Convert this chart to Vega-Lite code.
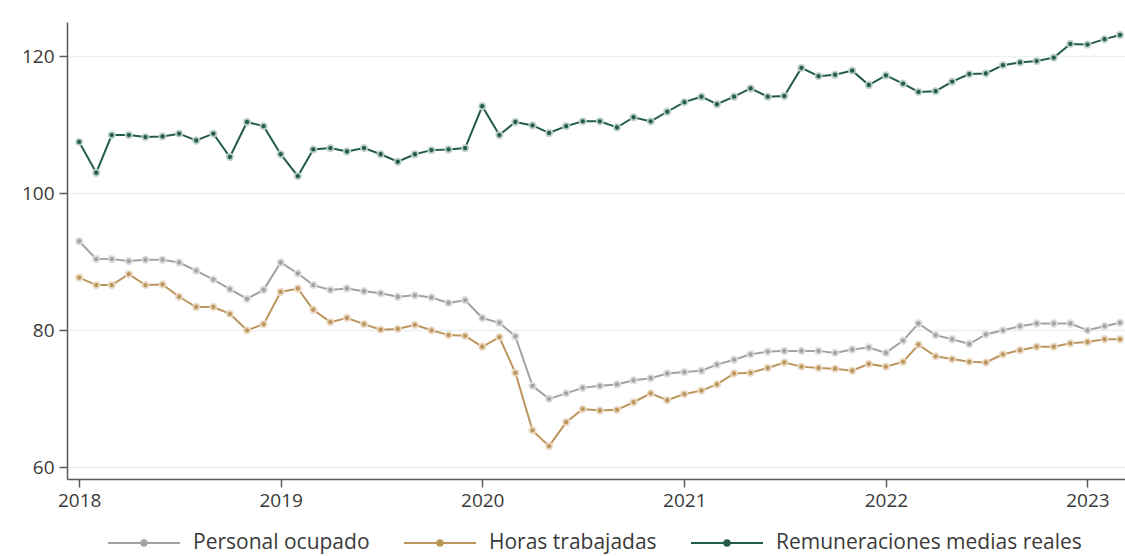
{
  "$schema": "https://vega.github.io/schema/vega-lite/v6.json",
  "width": 1058,
  "height": 457,
  "autosize": {"type": "none"},
  "padding": {"left": 67, "top": 22, "right": 0, "bottom": 77},
  "background": "white",
  "config": {
    "view": {"stroke": null},
    "font": "Open Sans",
    "legend": {"padding": 0}
  },
  "data": {
    "values": [
      {"fecha": "2018-01-01", "Personal ocupado": 93.0, "Horas trabajadas": 87.7, "Remuneraciones medias reales": 107.5},
      {"fecha": "2018-02-01", "Personal ocupado": 90.4, "Horas trabajadas": 86.6, "Remuneraciones medias reales": 103.0},
      {"fecha": "2018-03-01", "Personal ocupado": 90.4, "Horas trabajadas": 86.6, "Remuneraciones medias reales": 108.5},
      {"fecha": "2018-04-01", "Personal ocupado": 90.1, "Horas trabajadas": 88.2, "Remuneraciones medias reales": 108.5},
      {"fecha": "2018-05-01", "Personal ocupado": 90.3, "Horas trabajadas": 86.6, "Remuneraciones medias reales": 108.2},
      {"fecha": "2018-06-01", "Personal ocupado": 90.3, "Horas trabajadas": 86.7, "Remuneraciones medias reales": 108.3},
      {"fecha": "2018-07-01", "Personal ocupado": 89.9, "Horas trabajadas": 84.9, "Remuneraciones medias reales": 108.7},
      {"fecha": "2018-08-01", "Personal ocupado": 88.7, "Horas trabajadas": 83.4, "Remuneraciones medias reales": 107.7},
      {"fecha": "2018-09-01", "Personal ocupado": 87.4, "Horas trabajadas": 83.4, "Remuneraciones medias reales": 108.7},
      {"fecha": "2018-10-01", "Personal ocupado": 86.0, "Horas trabajadas": 82.4, "Remuneraciones medias reales": 105.3},
      {"fecha": "2018-11-01", "Personal ocupado": 84.6, "Horas trabajadas": 80.0, "Remuneraciones medias reales": 110.4},
      {"fecha": "2018-12-01", "Personal ocupado": 85.9, "Horas trabajadas": 80.9, "Remuneraciones medias reales": 109.8},
      {"fecha": "2019-01-01", "Personal ocupado": 89.9, "Horas trabajadas": 85.6, "Remuneraciones medias reales": 105.7},
      {"fecha": "2019-02-01", "Personal ocupado": 88.3, "Horas trabajadas": 86.1, "Remuneraciones medias reales": 102.5},
      {"fecha": "2019-03-01", "Personal ocupado": 86.6, "Horas trabajadas": 83.0, "Remuneraciones medias reales": 106.4},
      {"fecha": "2019-04-01", "Personal ocupado": 85.9, "Horas trabajadas": 81.2, "Remuneraciones medias reales": 106.6},
      {"fecha": "2019-05-01", "Personal ocupado": 86.1, "Horas trabajadas": 81.8, "Remuneraciones medias reales": 106.1},
      {"fecha": "2019-06-01", "Personal ocupado": 85.7, "Horas trabajadas": 80.9, "Remuneraciones medias reales": 106.6},
      {"fecha": "2019-07-01", "Personal ocupado": 85.4, "Horas trabajadas": 80.1, "Remuneraciones medias reales": 105.7},
      {"fecha": "2019-08-01", "Personal ocupado": 84.9, "Horas trabajadas": 80.2, "Remuneraciones medias reales": 104.6},
      {"fecha": "2019-09-01", "Personal ocupado": 85.1, "Horas trabajadas": 80.8, "Remuneraciones medias reales": 105.7},
      {"fecha": "2019-10-01", "Personal ocupado": 84.8, "Horas trabajadas": 80.0, "Remuneraciones medias reales": 106.3},
      {"fecha": "2019-11-01", "Personal ocupado": 84.0, "Horas trabajadas": 79.3, "Remuneraciones medias reales": 106.4},
      {"fecha": "2019-12-01", "Personal ocupado": 84.4, "Horas trabajadas": 79.2, "Remuneraciones medias reales": 106.6},
      {"fecha": "2020-01-01", "Personal ocupado": 81.8, "Horas trabajadas": 77.6, "Remuneraciones medias reales": 112.7},
      {"fecha": "2020-02-01", "Personal ocupado": 81.1, "Horas trabajadas": 79.0, "Remuneraciones medias reales": 108.5},
      {"fecha": "2020-03-01", "Personal ocupado": 79.1, "Horas trabajadas": 73.8, "Remuneraciones medias reales": 110.4},
      {"fecha": "2020-04-01", "Personal ocupado": 71.9, "Horas trabajadas": 65.4, "Remuneraciones medias reales": 109.9},
      {"fecha": "2020-05-01", "Personal ocupado": 70.0, "Horas trabajadas": 63.1, "Remuneraciones medias reales": 108.8},
      {"fecha": "2020-06-01", "Personal ocupado": 70.8, "Horas trabajadas": 66.6, "Remuneraciones medias reales": 109.8},
      {"fecha": "2020-07-01", "Personal ocupado": 71.6, "Horas trabajadas": 68.5, "Remuneraciones medias reales": 110.5},
      {"fecha": "2020-08-01", "Personal ocupado": 71.9, "Horas trabajadas": 68.3, "Remuneraciones medias reales": 110.5},
      {"fecha": "2020-09-01", "Personal ocupado": 72.1, "Horas trabajadas": 68.4, "Remuneraciones medias reales": 109.6},
      {"fecha": "2020-10-01", "Personal ocupado": 72.7, "Horas trabajadas": 69.5, "Remuneraciones medias reales": 111.1},
      {"fecha": "2020-11-01", "Personal ocupado": 73.0, "Horas trabajadas": 70.8, "Remuneraciones medias reales": 110.5},
      {"fecha": "2020-12-01", "Personal ocupado": 73.7, "Horas trabajadas": 69.8, "Remuneraciones medias reales": 111.9},
      {"fecha": "2021-01-01", "Personal ocupado": 73.9, "Horas trabajadas": 70.7, "Remuneraciones medias reales": 113.3},
      {"fecha": "2021-02-01", "Personal ocupado": 74.1, "Horas trabajadas": 71.2, "Remuneraciones medias reales": 114.1},
      {"fecha": "2021-03-01", "Personal ocupado": 75.0, "Horas trabajadas": 72.1, "Remuneraciones medias reales": 113.0},
      {"fecha": "2021-04-01", "Personal ocupado": 75.7, "Horas trabajadas": 73.7, "Remuneraciones medias reales": 114.1},
      {"fecha": "2021-05-01", "Personal ocupado": 76.5, "Horas trabajadas": 73.8, "Remuneraciones medias reales": 115.3},
      {"fecha": "2021-06-01", "Personal ocupado": 76.9, "Horas trabajadas": 74.5, "Remuneraciones medias reales": 114.1},
      {"fecha": "2021-07-01", "Personal ocupado": 77.0, "Horas trabajadas": 75.3, "Remuneraciones medias reales": 114.2},
      {"fecha": "2021-08-01", "Personal ocupado": 77.0, "Horas trabajadas": 74.7, "Remuneraciones medias reales": 118.3},
      {"fecha": "2021-09-01", "Personal ocupado": 77.0, "Horas trabajadas": 74.5, "Remuneraciones medias reales": 117.1},
      {"fecha": "2021-10-01", "Personal ocupado": 76.7, "Horas trabajadas": 74.4, "Remuneraciones medias reales": 117.3},
      {"fecha": "2021-11-01", "Personal ocupado": 77.2, "Horas trabajadas": 74.1, "Remuneraciones medias reales": 117.9},
      {"fecha": "2021-12-01", "Personal ocupado": 77.5, "Horas trabajadas": 75.1, "Remuneraciones medias reales": 115.8},
      {"fecha": "2022-01-01", "Personal ocupado": 76.7, "Horas trabajadas": 74.7, "Remuneraciones medias reales": 117.2},
      {"fecha": "2022-02-01", "Personal ocupado": 78.5, "Horas trabajadas": 75.4, "Remuneraciones medias reales": 116.0},
      {"fecha": "2022-03-01", "Personal ocupado": 81.0, "Horas trabajadas": 77.9, "Remuneraciones medias reales": 114.8},
      {"fecha": "2022-04-01", "Personal ocupado": 79.3, "Horas trabajadas": 76.2, "Remuneraciones medias reales": 114.9},
      {"fecha": "2022-05-01", "Personal ocupado": 78.7, "Horas trabajadas": 75.8, "Remuneraciones medias reales": 116.3},
      {"fecha": "2022-06-01", "Personal ocupado": 78.0, "Horas trabajadas": 75.4, "Remuneraciones medias reales": 117.4},
      {"fecha": "2022-07-01", "Personal ocupado": 79.4, "Horas trabajadas": 75.3, "Remuneraciones medias reales": 117.5},
      {"fecha": "2022-08-01", "Personal ocupado": 80.0, "Horas trabajadas": 76.5, "Remuneraciones medias reales": 118.7},
      {"fecha": "2022-09-01", "Personal ocupado": 80.6, "Horas trabajadas": 77.1, "Remuneraciones medias reales": 119.1},
      {"fecha": "2022-10-01", "Personal ocupado": 81.0, "Horas trabajadas": 77.6, "Remuneraciones medias reales": 119.3},
      {"fecha": "2022-11-01", "Personal ocupado": 81.0, "Horas trabajadas": 77.6, "Remuneraciones medias reales": 119.8},
      {"fecha": "2022-12-01", "Personal ocupado": 81.0, "Horas trabajadas": 78.1, "Remuneraciones medias reales": 121.8},
      {"fecha": "2023-01-01", "Personal ocupado": 80.0, "Horas trabajadas": 78.3, "Remuneraciones medias reales": 121.7},
      {"fecha": "2023-02-01", "Personal ocupado": 80.6, "Horas trabajadas": 78.7, "Remuneraciones medias reales": 122.5},
      {"fecha": "2023-03-01", "Personal ocupado": 81.1, "Horas trabajadas": 78.7, "Remuneraciones medias reales": 123.1}
    ]
  },
  "transform": [
    {"fold": ["Personal ocupado", "Horas trabajadas", "Remuneraciones medias reales"], "as": ["serie", "valor"]}
  ],
  "encoding": {
    "x": {
      "field": "fecha",
      "type": "temporal",
      "title": null,
      "scale": {
        "type": "utc",
        "domain": [
          {"year": 2017, "month": 12, "date": 10, "utc": true},
          {"year": 2023, "month": 3, "date": 10, "utc": true}
        ]
      },
      "axis": {
        "values": [
          {"year": 2018, "month": 1, "date": 1, "utc": true},
          {"year": 2019, "month": 1, "date": 1, "utc": true},
          {"year": 2020, "month": 1, "date": 1, "utc": true},
          {"year": 2021, "month": 1, "date": 1, "utc": true},
          {"year": 2022, "month": 1, "date": 1, "utc": true},
          {"year": 2023, "month": 1, "date": 1, "utc": true}
        ],
        "format": "%Y",
        "grid": false,
        "domainColor": "#5a5a5a",
        "domainWidth": 1.5,
        "tickColor": "#5a5a5a",
        "tickWidth": 1.5,
        "tickSize": 8,
        "labelFontSize": 19,
        "labelColor": "#3a3a3a",
        "labelPadding": 4
      }
    },
    "y": {
      "field": "valor",
      "type": "quantitative",
      "title": null,
      "scale": {"domain": [58.3, 125], "nice": false, "zero": false},
      "axis": {
        "values": [60, 80, 100, 120],
        "grid": true,
        "gridColor": "#ebf1f2",
        "gridWidth": 1.5,
        "domainColor": "#5a5a5a",
        "domainWidth": 1.5,
        "tickColor": "#5a5a5a",
        "tickWidth": 1.5,
        "tickSize": 8,
        "labelFontSize": 19,
        "labelColor": "#3a3a3a",
        "labelPadding": 5
      }
    },
    "color": {
      "field": "serie",
      "type": "nominal",
      "sort": ["Personal ocupado", "Horas trabajadas", "Remuneraciones medias reales"],
      "scale": {
        "domain": ["Personal ocupado", "Horas trabajadas", "Remuneraciones medias reales"],
        "range": ["#a2a2a4", "#bc955c", "#235b4e"]
      },
      "legend": {
        "title": null,
        "orient": "none",
        "direction": "horizontal",
        "legendX": 40,
        "legendY": 484,
        "symbolType": "M-1,0L1,0M-0.075,0A0.075,0.075,0,1,1,0.075,0A0.075,0.075,0,1,1,-0.075,0Z",
        "symbolSize": 5184,
        "symbolStrokeWidth": 2,
        "labelOffset": 12,
        "columnPadding": 30,
        "labelFontSize": 21,
        "labelLimit": 500,
        "labelColor": "#3a3a3a",
        "encode": {
          "symbols": {
            "update": {
              "fill": {"scale": "color", "field": "value"},
              "stroke": {"scale": "color", "field": "value"},
              "fillOpacity": {"value": 1},
              "strokeOpacity": {"value": 1}
            }
          }
        }
      }
    }
  },
  "layer": [
    {"mark": {"type": "line", "strokeWidth": 2}},
    {
      "mark": {"type": "point", "filled": true, "size": 40, "opacity": 1, "strokeWidth": 2, "strokeOpacity": 0.9},
      "encoding": {
        "stroke": {
          "field": "serie",
          "type": "nominal",
          "scale": {
            "domain": ["Personal ocupado", "Horas trabajadas", "Remuneraciones medias reales"],
            "range": ["#dedede", "#ecdcc6", "#c3d5cf"]
          },
          "legend": null
        }
      }
    }
  ]
}
